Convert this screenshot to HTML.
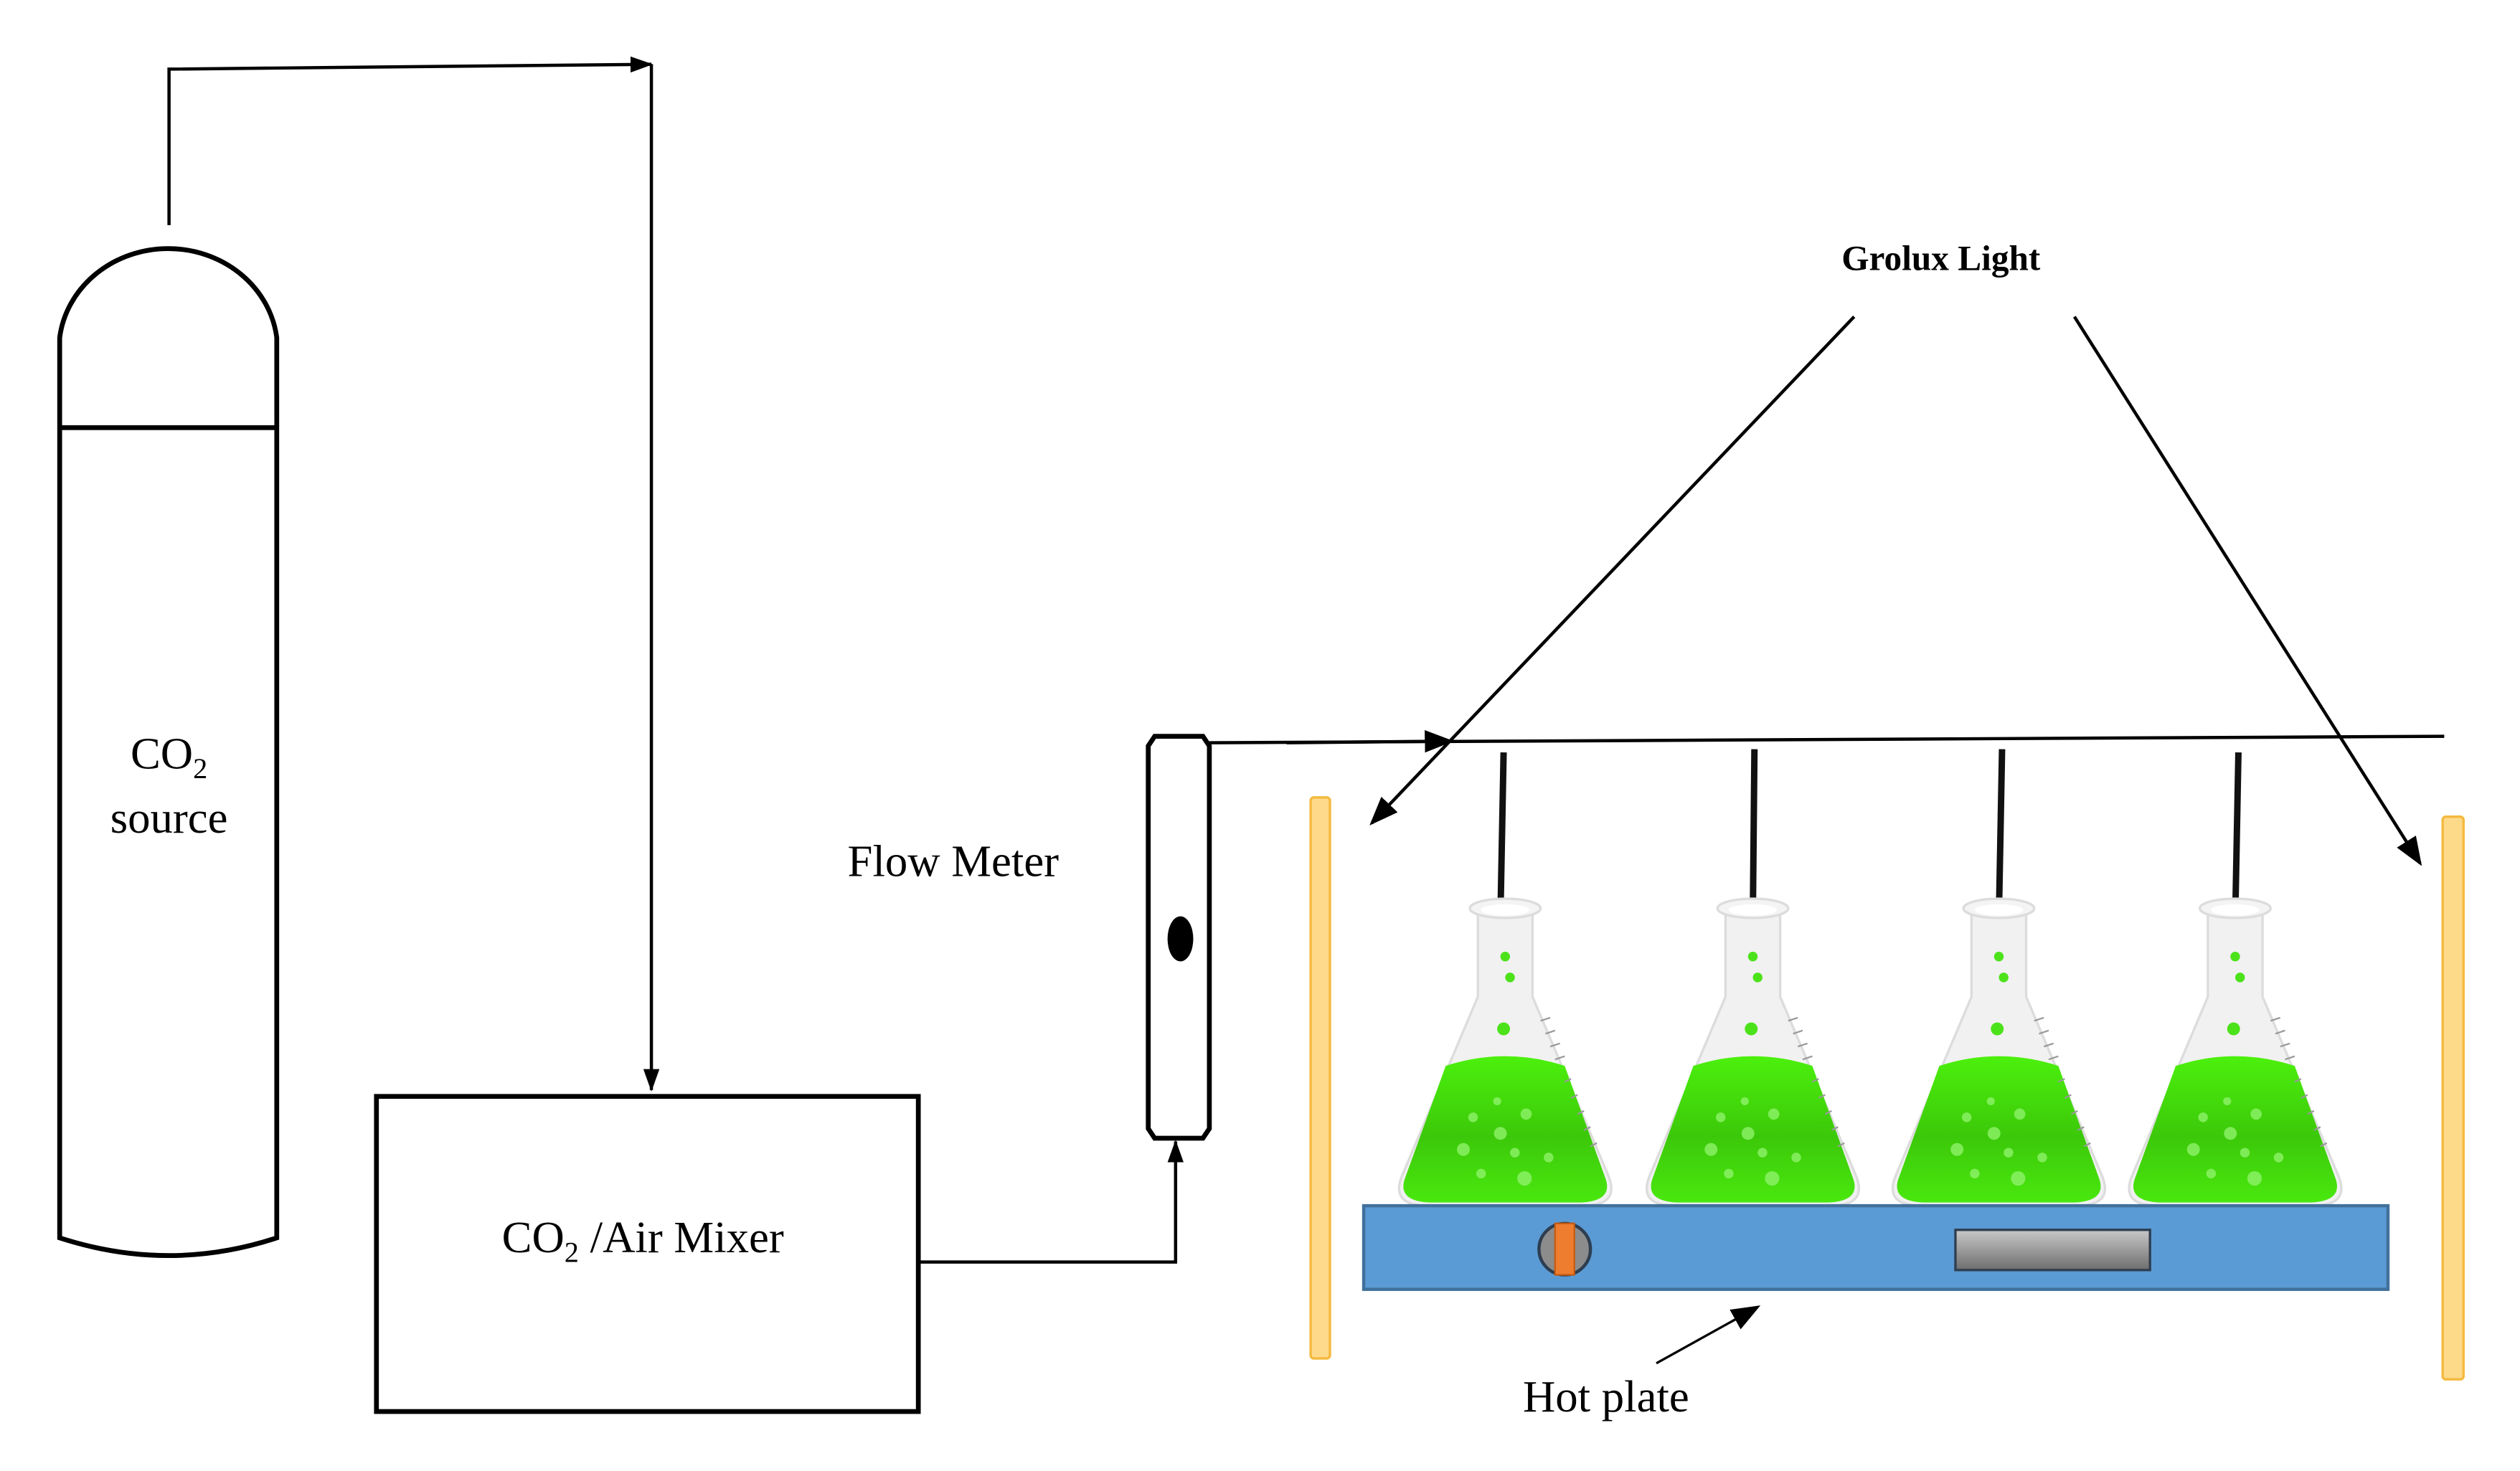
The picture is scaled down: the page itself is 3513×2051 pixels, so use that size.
<!DOCTYPE html>
<html><head><meta charset="utf-8"><style>html,body{margin:0;padding:0;background:#fff}svg{display:block}</style></head>
<body>
<svg width="3513" height="2051" viewBox="0 0 1567 915" xmlns="http://www.w3.org/2000/svg">
<defs>
<marker id="ah" markerWidth="14" markerHeight="12" refX="13" refY="6" orient="auto" markerUnits="userSpaceOnUse" viewBox="0 0 14 12"><path d="M0,1 L14,6 L0,11 Z" fill="#000"/></marker>
<marker id="ah2" markerWidth="18" markerHeight="14" refX="16" refY="7" orient="auto" markerUnits="userSpaceOnUse" viewBox="0 0 18 14"><path d="M0,0 L18,7 L0,14 Z" fill="#000"/></marker>
<linearGradient id="liq" x1="0" y1="0" x2="0" y2="1"><stop offset="0" stop-color="#4cf00c"/><stop offset="0.55" stop-color="#3cc80a"/><stop offset="1" stop-color="#4ae80e"/></linearGradient>
<linearGradient id="gr" x1="0" y1="0" x2="0" y2="1"><stop offset="0" stop-color="#c8c8c8"/><stop offset="1" stop-color="#6e6e6e"/></linearGradient>
<g id="flask">
<path d="M-17 0 L-17 55 L-64 166 Q-72 185 -48 185 L48 185 Q72 185 64 166 L17 55 L17 0 Z" fill="#f1f1f1" stroke="#dcdcdc" stroke-width="1.5"/>
<ellipse cx="0" cy="0" rx="22" ry="6" fill="#f4f4f4" stroke="#dcdcdc" stroke-width="1.5"/>
<ellipse cx="0" cy="1" rx="15" ry="3.5" fill="#fff"/>
<path d="M-37 98 Q0 86 37 98 L62 167 Q68 182 47 183 L-47 183 Q-68 182 -62 167 Z" fill="url(#liq)"/>
<g stroke="#999" stroke-width="1"><line x1="22" y1="70" x2="28" y2="68"/><line x1="25" y1="78" x2="31" y2="76"/><line x1="28" y1="86" x2="34" y2="84"/><line x1="31" y1="94" x2="37" y2="92"/><line x1="37" y1="108" x2="41" y2="106"/><line x1="41" y1="118" x2="45" y2="116"/><line x1="45" y1="128" x2="49" y2="126"/><line x1="49" y1="138" x2="53" y2="136"/><line x1="53" y1="148" x2="57" y2="146"/></g>
<g fill="#4ce21a"><circle cx="0" cy="30" r="3"/><circle cx="3" cy="43" r="3"/><circle cx="-1" cy="75" r="4"/></g>
<g fill="#8ef36a" opacity="0.8"><circle cx="-20" cy="130" r="3"/><circle cx="-5" cy="120" r="2.5"/><circle cx="13" cy="128" r="3.5"/><circle cx="-3" cy="140" r="4"/><circle cx="-26" cy="150" r="4"/><circle cx="6" cy="152" r="3"/><circle cx="27" cy="155" r="3"/><circle cx="-15" cy="165" r="3"/><circle cx="12" cy="168" r="4.5"/></g>
</g>
</defs>
<g fill="none" stroke="#000" stroke-width="3">
<path d="M37 770 L37 210 A68 63 0 0 1 172 210 L172 770 Q105 792 37 770 Z"/>
<line x1="37" y1="266" x2="172" y2="266"/>
</g>
<g fill="none" stroke="#000" stroke-width="2">
<polyline points="105,140 105,43 405,40" marker-end="url(#ah)"/>
<line x1="405" y1="40" x2="405" y2="678" marker-end="url(#ah)"/>
<polyline points="571,785 731,785 731,710" marker-end="url(#ah)"/>
<line x1="752" y1="462" x2="1520" y2="458"/>
<line x1="800" y1="462" x2="902" y2="461" marker-end="url(#ah2)"/>
<line x1="1153" y1="197" x2="853" y2="512" marker-end="url(#ah2)"/>
<line x1="1290" y1="197" x2="1505" y2="537" marker-end="url(#ah2)"/>
<line x1="1030" y1="848" x2="1093" y2="813" stroke-width="1.5" marker-end="url(#ah2)"/>
</g>
<rect x="234" y="682" width="337" height="196" fill="none" stroke="#000" stroke-width="3"/>
<path d="M718 458 L748 458 L752 464 L752 702 L748 708 L718 708 L714 702 L714 464 Z" fill="#fff" stroke="#000" stroke-width="3"/>
<ellipse cx="734" cy="584" rx="8" ry="14" fill="#000"/>
<g font-family="Liberation Serif, serif" font-size="28" fill="#000">
<text x="105" y="478" text-anchor="middle">CO<tspan font-size="18" dy="6">2</tspan></text>
<text x="105" y="518" text-anchor="middle">source</text>
<text x="312" y="779">CO<tspan font-size="18" dy="6">2</tspan><tspan dy="-6"> /Air Mixer</tspan></text>
<text x="527" y="545">Flow Meter</text>
<text x="947" y="878">Hot plate</text>
<text x="1207" y="168" text-anchor="middle" font-weight="bold" font-size="22">Grolux Light</text>
</g>
<rect x="815" y="496" width="12" height="349" rx="2" fill="#fdd98a" stroke="#f4b93e" stroke-width="1.5"/>
<rect x="1519" y="508" width="13" height="350" rx="2" fill="#fdd98a" stroke="#f4b93e" stroke-width="1.5"/>
<g stroke="#111" stroke-width="4">
<line x1="935" y1="468" x2="933" y2="572"/>
<line x1="1091" y1="466" x2="1090" y2="572"/>
<line x1="1245" y1="466" x2="1243" y2="572"/>
<line x1="1392" y1="468" x2="1390" y2="572"/>
</g>
<use href="#flask" x="936" y="565"/>
<use href="#flask" x="1090" y="565"/>
<use href="#flask" x="1243" y="565"/>
<use href="#flask" x="1390" y="565"/>
<rect x="848" y="750" width="637" height="52" fill="#5b9bd5" stroke="#41719c" stroke-width="2"/>
<circle cx="973" cy="777" r="16" fill="#8c8c8c" stroke="#2e3e50" stroke-width="2"/>
<rect x="967" y="761" width="12" height="32" fill="#ee7d2f" stroke="#c55a11" stroke-width="1"/>
<rect x="1216" y="765" width="121" height="25" fill="url(#gr)" stroke="#2e3e50" stroke-width="1.5"/>
</svg>
</body></html>
